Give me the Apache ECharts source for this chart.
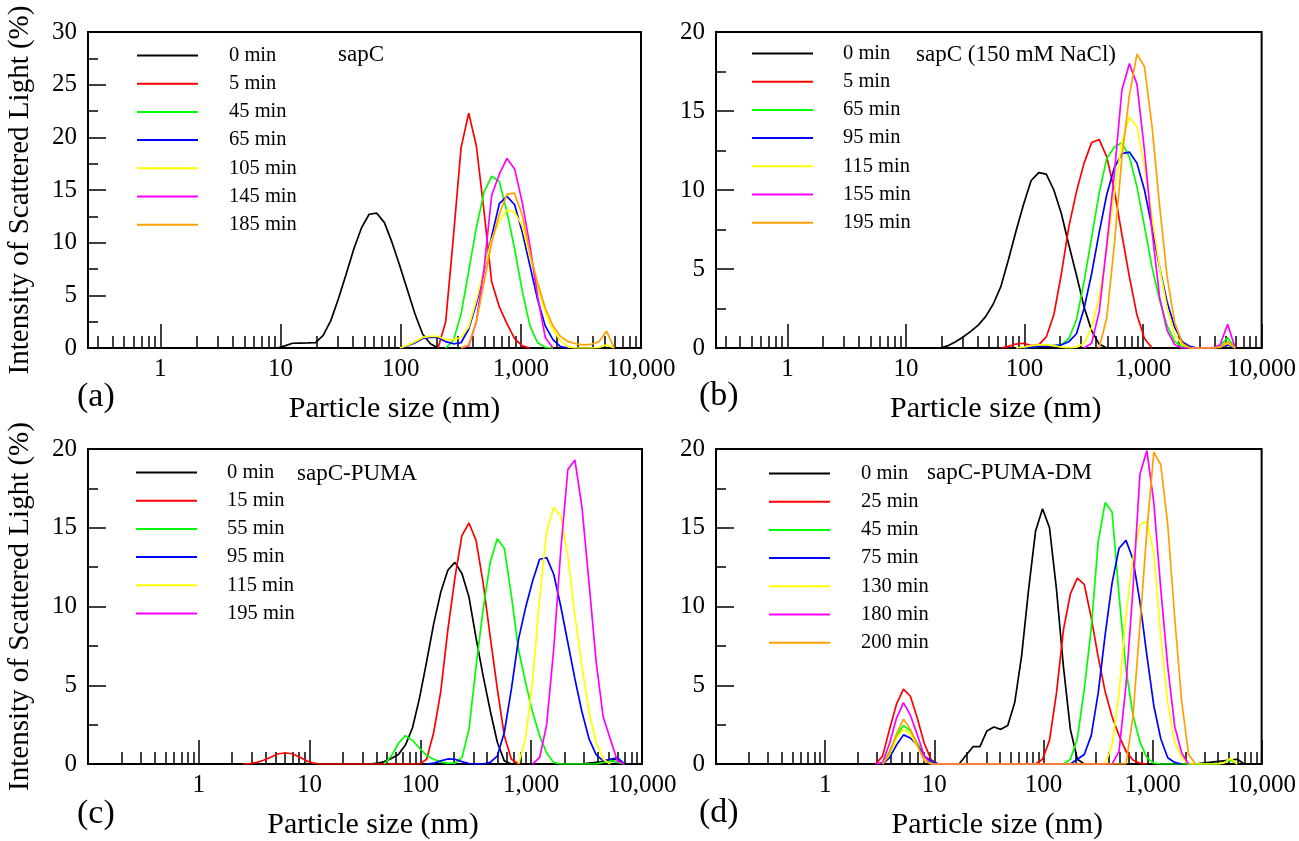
<!DOCTYPE html>
<html>
<head>
<meta charset="utf-8">
<script src="https://cdn.jsdelivr.net/npm/echarts@6/dist/echarts.min.js"></script>
<style>
  html, body { margin: 0; padding: 0; background: #ffffff; }
  #chart { width: 1299px; height: 841px; }
</style>
</head>
<body>
<div id="chart"></div>
<script>
// Particle-size bins of the DLS distributions (nm), log spaced
const SIZES = [
  0.4306, 0.4987, 0.5775, 0.6689, 0.7746, 0.8970, 1.039, 1.203, 1.393, 1.614,
  1.869, 2.164, 2.506, 2.902, 3.361, 3.892, 4.507, 5.220, 6.045, 7.000,
  8.107, 9.388, 10.87, 12.59, 14.58, 16.89, 19.56, 22.65, 26.22, 30.37,
  35.17, 40.73, 47.17, 54.63, 63.27, 73.27, 84.85, 98.26, 113.8, 131.8,
  152.6, 176.8, 204.7, 237.0, 274.5, 317.9, 368.2, 426.4, 493.8, 571.8,
  662.2, 766.9, 888.1, 1028, 1191, 1379, 1597, 1850, 2142, 2481,
  2873, 3327, 3854, 4462, 5168, 5985, 6932, 8027, 9296, 10765
];

// Axis tick values (nm)
const MAJOR_TICKS = [1, 10, 100, 1000, 10000];
const MINOR_TICKS_AB = [0.3, 0.4, 0.5, 0.6, 0.7, 0.8, 0.9,
  2, 3, 4, 5, 6, 7, 8, 9, 20, 30, 40, 50, 60, 70, 80, 90,
  200, 300, 400, 500, 600, 700, 800, 900, 2000, 3000, 4000, 5000, 6000, 7000, 8000, 9000];
const MINOR_TICKS_CD = [0.2].concat(MINOR_TICKS_AB);

// Intensity distributions (%): each curve is a list of [first bin index, values]
// (a) sapC
const SAPC_TIMES = ['0 min', '5 min', '45 min', '65 min', '105 min', '145 min', '185 min'];
const SAPC_0   = [[21, [0, 0.2, 0.45, 0.47, 0.48, 0.5, 1.2, 2.6, 4.7, 7.0, 9.4, 11.4, 12.7, 12.8, 11.9, 10.0, 7.8, 5.5, 3.2, 1.3, 0.4, 0]]];
const SAPC_5   = [[42, [0, 2.5, 10.5, 19.0, 22.3, 19.2, 13.0, 6.3, 3.9, 2.3, 0.9, 0.2, 0]]];
const SAPC_45  = [[43, [0, 0.7, 3.2, 7.3, 11.4, 14.8, 16.3, 15.8, 12.9, 9.4, 5.4, 2.1, 0.5, 0.06, 0]]];
const SAPC_65  = [[37, [0, 0.2, 0.5, 0.9, 1.0, 1.0, 0.6, 0.4, 0.5, 1.8, 4.2, 7.3, 10.6, 13.7, 14.4, 13.6, 11.0, 7.8, 4.6, 2.1, 0.8, 0.13, 0]]];
const SAPC_105 = [[37, [0, 0.25, 0.6, 1.0, 1.1, 1.1, 0.8, 0.8, 1.0, 2.0, 4.5, 7.5, 10.3, 12.1, 13.1, 12.9, 11.6, 8.7, 5.8, 3.4, 1.7, 0.7, 0.1, 0]], [62, [0, 0.05, 0.3, 0]]];
const SAPC_145 = [[45, [0, 0.2, 2.5, 7.5, 14.5, 16.5, 18.0, 17.0, 13.8, 9.7, 4.9, 1.0, 0]]];
const SAPC_185 = [[45, [0, 0.3, 2.5, 6.2, 10.0, 12.7, 14.6, 14.7, 12.6, 9.0, 6.2, 3.8, 2.1, 1.1, 0.6, 0.4, 0.3, 0.35, 0.6, 1.6, 0]]];

// (b) sapC in 150 mM NaCl
const NACL_TIMES = ['0 min', '5 min', '65 min', '95 min', '115 min', '155 min', '195 min'];
const NACL_0   = [[26, [0, 0.15, 0.4, 0.7, 1.05, 1.45, 2.0, 2.8, 3.9, 5.6, 7.4, 9.1, 10.6, 11.1, 11.0, 10.0, 8.5, 6.5, 4.6, 2.6, 1.1, 0.25, 0]]];
const NACL_5   = [[34, [0, 0.1, 0.25, 0.3, 0.15, 0.2, 0.7, 2.1, 4.7, 7.7, 9.9, 11.7, 13.0, 13.2, 12.1, 10.0, 7.2, 4.5, 2.1, 0.6, 0]]];
const NACL_65  = [[37, [0, 0.05, 0.1, 0.15, 0.15, 0.2, 0.6, 1.8, 4.2, 7.0, 9.8, 12.0, 12.7, 13.0, 12.1, 10.2, 7.7, 5.1, 3.0, 1.4, 0.4, 0.1, 0]], [62, [0, 0.15, 0.65, 0]]];
const NACL_95  = [[37, [0, 0.05, 0.1, 0.1, 0.15, 0.2, 0.4, 0.9, 2.5, 4.7, 7.3, 9.7, 11.4, 12.3, 12.4, 11.7, 10.0, 7.6, 5.1, 2.9, 1.3, 0.4, 0.1, 0]], [62, [0, 0.05, 0.2, 0]]];
const NACL_115 = [[36, [0, 0.05, 0.15, 0.2, 0.2, 0.15, 0.05, 0, 0.05, 0.3, 1.3, 3.2, 6.2, 9.8, 13.0, 14.6, 14.0, 11.5, 8.3, 5.1, 2.5, 0.85, 0.2, 0]], [62, [0, 0.05, 0.3, 0]]];
const NACL_155 = [[45, [0, 0.3, 2.3, 6.5, 11.0, 16.3, 18.0, 16.7, 12.5, 7.4, 3.2, 1.1, 0.2, 0]], [62, [0, 0.2, 1.5, 0]]];
const NACL_195 = [[47, [0, 1.9, 6.5, 12.0, 16.0, 18.6, 17.8, 14.0, 9.0, 4.5, 1.6, 0.3, 0]], [62, [0, 0.05, 0.4, 0]]];

// (c) sapC-PUMA
const PUMA_TIMES = ['0 min', '15 min', '55 min', '95 min', '115 min', '195 min'];
const PUMA_0   = [[30, [0, 0.05, 0.15, 0.35, 0.6, 1.2, 2.3, 4.2, 6.5, 8.9, 10.9, 12.3, 12.8, 12.1, 10.6, 8.0, 5.6, 3.4, 1.4, 0.2, 0]], [60, [0, 0.05, 0.1, 0.15, 0.25, 0.3, 0]]];
const PUMA_15  = [[12, [0, 0.03, 0.1, 0.25, 0.45, 0.65, 0.7, 0.65, 0.45, 0.2, 0.05, 0]], [37, [0, 0.3, 2.0, 4.6, 8.5, 11.8, 14.5, 15.3, 14.2, 11.5, 8.1, 4.8, 1.8, 0.3, 0]]];
const PUMA_55  = [[32, [0, 0.5, 1.3, 1.8, 1.5, 1.0, 0.55, 0.3, 0.12, 0.05, 0.05, 0.4, 2.2, 6.2, 9.8, 12.8, 14.3, 13.7, 10.7, 7.3, 5.2, 3.3, 1.8, 0.7, 0.1, 0]], [62, [0, 0.1, 0.2, 0.1, 0]]];
const PUMA_95  = [[38, [0, 0.05, 0.2, 0.32, 0.3, 0.15, 0.03, 0, 0, 0.1, 0.5, 2.0, 4.75, 7.9, 9.9, 11.6, 13.0, 13.1, 12.05, 10.0, 7.7, 5.4, 3.3, 1.6, 0.6, 0.2, 0.3, 0.4, 0]]];
const PUMA_115 = [[51, [0, 1.6, 5.2, 10.5, 14.8, 16.3, 15.75, 13.2, 9.4, 6.2, 3.3, 1.4, 0.3, 0]]];
const PUMA_195 = [[53, [0, 0.4, 2.5, 7.3, 13.6, 18.7, 19.3, 16.3, 11.5, 6.5, 3.0, 1.6, 0.2, 0]]];

// (d) sapC-PUMA-DM
const DM_TIMES = ['0 min', '25 min', '45 min', '75 min', '130 min', '180 min', '200 min'];
const DM_0   = [[25, [0, 0.55, 1.1, 1.1, 2.1, 2.35, 2.2, 2.45, 3.9, 6.9, 11.1, 14.8, 16.2, 15.0, 11.1, 6.2, 2.2, 0.3, 0]], [59, [0, 0.05, 0.1, 0.15, 0.2, 0.25, 0.3, 0]]];
const DM_25  = [[13, [0, 0.5, 2.2, 3.8, 4.75, 4.3, 2.9, 1.3, 0.25, 0]], [36, [0, 0.3, 1.5, 4.5, 8.5, 10.8, 11.8, 11.4, 9.3, 6.8, 4.6, 3.0, 1.8, 0.8, 0.25, 0.05, 0]]];
const DM_45  = [[14, [0, 0.8, 1.8, 2.45, 2.1, 1.3, 0.5, 0.1, 0]], [40, [0, 0.3, 1.6, 4.75, 8.6, 14.1, 16.6, 16.0, 10.7, 6.0, 3.1, 1.4, 0.4, 0.05, 0]], [62, [0, 0.05, 0.25, 0]]];
const DM_75  = [[14, [0, 0.4, 1.2, 1.85, 1.65, 1.2, 0.5, 0.2, 0]], [41, [0, 0.3, 0.6, 1.8, 4.5, 8.2, 11.5, 13.7, 14.2, 13.0, 10.3, 6.9, 3.7, 1.6, 0.4, 0.1, 0]]];
const DM_130 = [[14, [0, 0.6, 1.6, 2.2, 1.9, 1.1, 0.3, 0]], [46, [0, 1.2, 4.5, 9.5, 13.0, 15.2, 15.4, 13.4, 8.1, 3.9, 1.4, 0.4, 0]], [62, [0, 0.05, 0.35, 0]]];
const DM_180 = [[13, [0, 0.1, 1.3, 2.9, 3.9, 3.1, 1.85, 0.5, 0]], [47, [0, 0.8, 5.0, 11.1, 18.4, 19.9, 16.6, 11.1, 6.2, 2.4, 0.7, 0]]];
const DM_200 = [[14, [0, 0.7, 1.9, 2.85, 2.2, 1.2, 0.2, 0]], [49, [0, 3.0, 8.8, 14.8, 19.8, 19.0, 15.2, 9.3, 4.0, 0.6, 0]]];

const COLORS = ['#000000', '#ff0000', '#00ff00', '#0000ff', '#ffff00', '#ff00ff', '#ffa000'];
const FONT = "'Liberation Serif', 'Times New Roman', serif";
const X_NAME = 'Particle size (nm)';
const Y_NAME = 'Intensity of Scattered Light (%)';

// Panel layout
const PANELS = [
  { key: 'a', title: 'sapC', letter: '(a)', times: SAPC_TIMES,
    curves: [SAPC_0, SAPC_5, SAPC_45, SAPC_65, SAPC_105, SAPC_145, SAPC_185],
    grid: { left: 88, top: 32, width: 553, height: 316 }, xMin: 0.25, yMax: 30, minor: MINOR_TICKS_AB,
    legend: { left: 137, top: 45, pad: 26 }, titleAt: [338, 56], letterAt: [77, 399], nameShift: 60, yName: true },
  { key: 'b', title: 'sapC (150 mM NaCl)', letter: '(b)', times: NACL_TIMES,
    curves: [NACL_0, NACL_5, NACL_65, NACL_95, NACL_115, NACL_155, NACL_195],
    grid: { left: 716, top: 32, width: 555, height: 316 }, xMin: 0.25, yMax: 20, minor: MINOR_TICKS_AB,
    legend: { left: 752, top: 43, pad: 25 }, titleAt: [916, 56], letterAt: [699, 398], nameShift: 14, yName: false },
  { key: 'c', title: 'sapC-PUMA', letter: '(c)', times: PUMA_TIMES,
    curves: [PUMA_0, PUMA_15, PUMA_55, PUMA_95, PUMA_115, PUMA_195],
    grid: { left: 88, top: 449, width: 554, height: 318 }, xMin: 0.1, yMax: 20, minor: MINOR_TICKS_CD,
    legend: { left: 136, top: 462, pad: 25 }, titleAt: [297, 475], letterAt: [77, 816], nameShift: 16, yName: true },
  { key: 'd', title: 'sapC-PUMA-DM', letter: '(d)', times: DM_TIMES,
    curves: [DM_0, DM_25, DM_45, DM_75, DM_130, DM_180, DM_200],
    grid: { left: 716, top: 449, width: 555, height: 318 }, xMin: 0.1, yMax: 20, minor: MINOR_TICKS_CD,
    legend: { left: 769, top: 463, pad: 26 }, titleAt: [927, 474], letterAt: [699, 815], nameShift: 17, yName: false }
];

function toPoints(segments) {
  const pts = [];
  segments.forEach(([start, vals]) => {
    vals.forEach((v, i) => pts.push([SIZES[start + i], v]));
  });
  return pts;
}

function sizeLabel(v) {
  return Math.round(v).toString().replace(/\B(?=(\d{3})+(?!\d))/g, ',');
}

const option = {
  animation: false,
  backgroundColor: '#ffffff',
  grid: [], xAxis: [], yAxis: [], legend: [], series: [], graphic: []
};

PANELS.forEach((p, pi) => {
  option.grid.push(Object.assign({ show: true, borderColor: '#000', borderWidth: 2, containLabel: false }, p.grid));

  // labelled axis with the short (minor) ticks
  option.xAxis.push({
    type: 'log', logBase: 10, gridIndex: pi, position: 'bottom',
    min: p.xMin, max: 10000,
    name: X_NAME, nameLocation: 'middle', nameGap: 46,
    nameTextStyle: { fontFamily: FONT, fontSize: 30, color: '#000', padding: [0, 0, 0, p.nameShift] },
    axisLine: { show: true, lineStyle: { color: '#000', width: 2 } },
    axisTick: { show: true, inside: true, length: 12, customValues: p.minor, lineStyle: { color: '#000', width: 1.5 } },
    axisLabel: { show: true, customValues: MAJOR_TICKS, margin: 9, fontFamily: FONT, fontSize: 25, color: '#000', formatter: sizeLabel },
    splitLine: { show: false }, minorTick: { show: false }
  });
  // decade ticks (long)
  option.xAxis.push({
    type: 'log', logBase: 10, gridIndex: pi, position: 'bottom',
    min: p.xMin, max: 10000,
    axisLine: { show: false },
    axisTick: { show: true, inside: true, length: 24, customValues: MAJOR_TICKS, lineStyle: { color: '#000', width: 1.5 } },
    axisLabel: { show: false },
    splitLine: { show: false }
  });

  option.yAxis.push({
    type: 'value', gridIndex: pi, min: 0, max: p.yMax, interval: 5,
    name: p.yName ? Y_NAME : '', nameLocation: 'middle', nameGap: 53,
    nameTextStyle: { fontFamily: FONT, fontSize: 29, color: '#000' },
    axisLine: { show: true, lineStyle: { color: '#000', width: 2 } },
    axisTick: { show: true, inside: true, length: 18, lineStyle: { color: '#000', width: 1.5 } },
    minorTick: { show: true, splitNumber: 2, length: 10, lineStyle: { color: '#000', width: 1.5 } },
    axisLabel: { margin: 11, fontFamily: FONT, fontSize: 25, color: '#000' },
    splitLine: { show: false }
  });

  const names = p.times.map(t => p.key + '|' + t);
  p.curves.forEach((segs, si) => {
    option.series.push({
      type: 'line', name: names[si],
      xAxisIndex: pi * 2, yAxisIndex: pi,
      data: toPoints(segs),
      symbol: 'none', showSymbol: false,
      color: COLORS[si],
      lineStyle: { color: COLORS[si], width: 1.7 },
      emphasis: { disabled: true },
      clip: true, z: 3
    });
  });

  option.legend.push({
    orient: 'vertical', left: p.legend.left, top: p.legend.top, padding: 0,
    icon: 'rect', itemWidth: 61, itemHeight: 2, itemGap: 7.2,
    selectedMode: false,
    data: names,
    formatter: n => n.split('|')[1],
    textStyle: { fontFamily: FONT, fontSize: 20.5, color: '#000', lineHeight: 21, padding: [0, 0, 0, p.legend.pad] }
  });

  option.graphic.push({
    type: 'text', left: p.titleAt[0], top: p.titleAt[1] - 13,
    style: { text: p.title, fontFamily: FONT, fontSize: 23, fill: '#000' }
  });
  option.graphic.push({
    type: 'text', left: p.letterAt[0], top: p.letterAt[1] - 19,
    style: { text: p.letter, fontFamily: FONT, fontSize: 34, fill: '#000' }
  });
});

const chart = echarts.init(document.getElementById('chart'), null, { renderer: 'canvas' });
chart.setOption(option);
</script>
</body>
</html>
